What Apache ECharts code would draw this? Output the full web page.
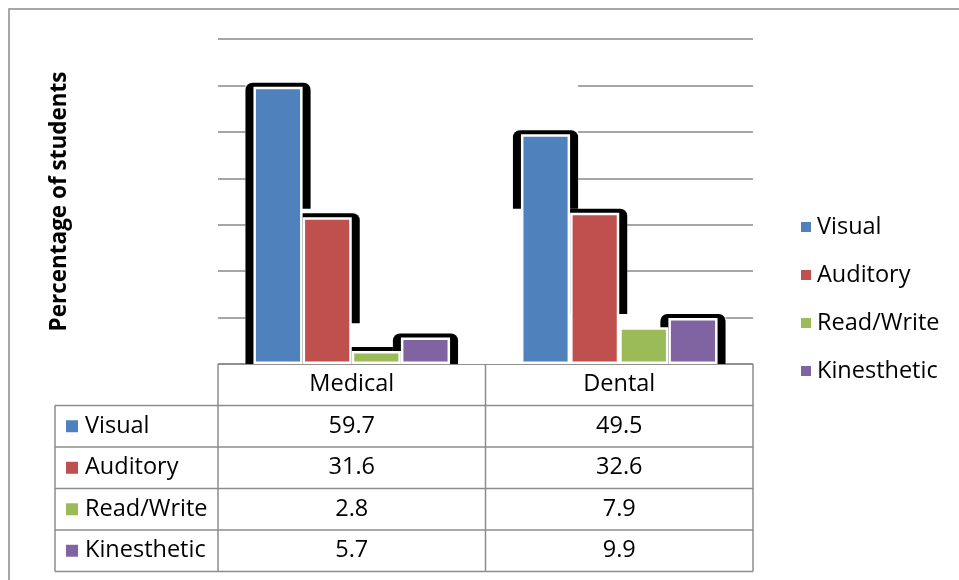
<!DOCTYPE html>
<html>
<head>
<meta charset="utf-8">
<script src="https://cdn.jsdelivr.net/npm/echarts@6/dist/echarts.min.js"></script>
<style>
  html, body { margin: 0; padding: 0; background: #fff; }
  #chart { width: 959px; height: 580px; }
</style>
</head>
<body>
<div id="chart"></div>
<script>
// Learning-style preference (VARK) by programme
const categories = ['Medical', 'Dental'];
const seriesNames = ['Visual', 'Auditory', 'Read/Write', 'Kinesthetic'];
const visual = [59.7, 49.5];
const auditory = [31.6, 32.6];
const readWrite = [2.8, 7.9];
const kinesthetic = [5.7, 9.9];
const seriesValues = [visual, auditory, readWrite, kinesthetic];
const colors = ['#4F81BD', '#C0504D', '#9BBB59', '#8064A2'];

// Layout
const FONT = '"Open Sans", "Liberation Sans", sans-serif';
const TEXT_SIZE = 23.5;
const GRID = { left: 218, right: 753, top: 39, bottom: 364 };
const CAT_GAP = 0.265;
const ROW_H = 41.5;
const LABEL_COL_LEFT = 55;
const LINE_COLOR = '#8c8c8c';
const SHADOW_PAD = 8;
const SHADOW_TOP = 4;

const chart = echarts.init(document.getElementById('chart'), null, { renderer: 'canvas' });

// Shadow layer: one item per series. Each series gets a white backing box
// spanning its columns, then a black rounded backdrop for every column.
const shadowData = seriesNames.map((n, s) => [s]);

function renderShadow(params, api) {
  const s = api.value(0);
  const n = seriesNames.length;
  const children = [];
  const rects = seriesValues[s].map((v, c) => {
    const base = api.coord([c, 0]);
    const top = api.coord([c, v]);
    const bandW = api.size([1, 0])[0];
    const groupW = bandW * (1 - CAT_GAP);
    const bw = groupW / n;
    const x0 = base[0] - groupW / 2 + s * bw;
    return {
      x: x0 - SHADOW_PAD,
      y: top[1] - SHADOW_TOP,
      width: bw + 2 * SHADOW_PAD,
      height: base[1] - top[1] + SHADOW_TOP
    };
  });
  const left = Math.min(...rects.map(r => r.x));
  const right = Math.max(...rects.map(r => r.x + r.width));
  const topY = Math.min(...rects.map(r => r.y));
  const bottom = Math.max(...rects.map(r => r.y + r.height));
  children.push({
    type: 'rect',
    shape: { x: left, y: topY, width: right - left, height: bottom - topY },
    style: { fill: '#fff' }
  });
  rects.forEach(r => {
    children.push({
      type: 'rect',
      shape: { x: r.x, y: r.y, width: r.width, height: r.height, r: [7, 7, 0, 0] },
      style: { fill: '#000' }
    });
  });
  return { type: 'group', children: children };
}

// Data table below the plot, built from the same arrays
const graphics = [];
// outer chart border
graphics.push({
  type: 'rect', shape: { x: 9, y: 9, width: 1000, height: 700 },
  style: { fill: 'none', stroke: LINE_COLOR, lineWidth: 1.5 }, silent: true
});
const colW = (GRID.right - GRID.left) / categories.length;
const tBottom = GRID.bottom + ROW_H * (seriesNames.length + 1);
const lineStyle = { stroke: LINE_COLOR, lineWidth: 1.5 };
graphics.push({ type: 'line', shape: { x1: GRID.left, y1: GRID.bottom, x2: GRID.right, y2: GRID.bottom }, style: lineStyle });
for (let r = 1; r <= seriesNames.length + 1; r++) {
  const y = GRID.bottom + ROW_H * r;
  graphics.push({ type: 'line', shape: { x1: LABEL_COL_LEFT, y1: y, x2: GRID.right, y2: y }, style: lineStyle });
}
graphics.push({ type: 'line', shape: { x1: LABEL_COL_LEFT, y1: GRID.bottom + ROW_H, x2: LABEL_COL_LEFT, y2: tBottom }, style: lineStyle });
for (let c = 0; c <= categories.length; c++) {
  const x = GRID.left + colW * c;
  graphics.push({ type: 'line', shape: { x1: x, y1: GRID.bottom, x2: x, y2: tBottom }, style: lineStyle });
}
const cellFont = TEXT_SIZE + 'px ' + FONT;
categories.forEach((name, c) => {
  graphics.push({
    type: 'text', x: GRID.left + colW * (c + 0.5), y: GRID.bottom + ROW_H / 2,
    style: { text: name, font: cellFont, fill: '#000', align: 'center', verticalAlign: 'middle' }
  });
});
seriesNames.forEach((name, s) => {
  const cy = GRID.bottom + ROW_H * (s + 1.5);
  graphics.push({
    type: 'rect', shape: { x: 66, y: cy - 6, width: 12, height: 12 }, style: { fill: colors[s] }
  });
  graphics.push({
    type: 'text', x: 85, y: cy,
    style: { text: name, font: cellFont, fill: '#000', align: 'left', verticalAlign: 'middle' }
  });
  seriesValues[s].forEach((v, c) => {
    graphics.push({
      type: 'text', x: GRID.left + colW * (c + 0.5), y: cy,
      style: { text: v.toFixed(1), font: cellFont, fill: '#000', align: 'center', verticalAlign: 'middle' }
    });
  });
});

const barSeries = seriesNames.map((name, s) => ({
  name: name,
  type: 'bar',
  data: seriesValues[s],
  barGap: '0%',
  barCategoryGap: (CAT_GAP * 100) + '%',
  itemStyle: { color: colors[s], borderColor: '#fff', borderWidth: 2.5 },
  z: 3
}));

chart.setOption({
  animation: false,
  backgroundColor: '#fff',
  textStyle: { fontFamily: FONT },
  grid: { left: GRID.left, right: 959 - GRID.right, top: GRID.top, bottom: 580 - GRID.bottom, containLabel: false },
  legend: {
    orient: 'vertical',
    left: 794,
    top: 210,
    itemWidth: 12,
    itemHeight: 12,
    itemGap: 24,
    icon: 'rect',
    data: seriesNames,
    textStyle: { fontSize: TEXT_SIZE, fontFamily: FONT, color: '#000', lineHeight: 24 }
  },
  xAxis: {
    type: 'category',
    data: categories,
    axisLine: { show: false },
    axisTick: { show: false },
    axisLabel: { show: false }
  },
  yAxis: {
    type: 'value',
    min: 0,
    max: 70,
    interval: 10,
    name: 'Percentage of students',
    nameLocation: 'middle',
    nameGap: 147,
    nameTextStyle: { fontSize: 22.5, fontWeight: 'bold', fontFamily: FONT, color: '#000' },
    axisLine: { show: false },
    axisTick: { show: false },
    axisLabel: { show: false },
    splitLine: { show: true, lineStyle: { color: '#888', width: 1.5 } }
  },
  series: [
    {
      type: 'custom',
      renderItem: renderShadow,
      data: shadowData,
      z: 2,
      silent: true,
      clip: false
    },
    ...barSeries
  ],
  graphic: graphics
});
</script>
</body>
</html>
